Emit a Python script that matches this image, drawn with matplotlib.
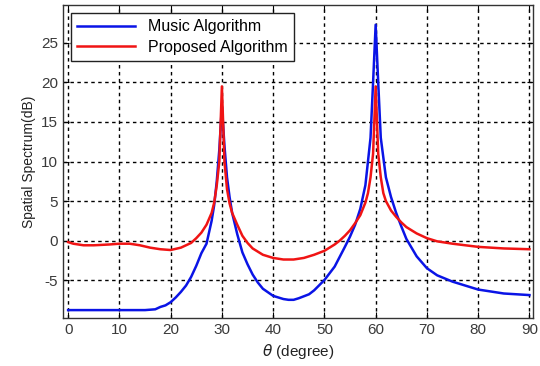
import matplotlib
matplotlib.use("Agg")
import matplotlib.pyplot as plt

# angle grid (degree) and spectra
music_theta = [0, 5, 10, 15, 17, 18, 19, 20, 21, 22, 23, 24, 25, 26, 27, 28,
               28.5, 29, 29.5, 30, 30.5, 31, 31.5, 32, 33, 34, 35, 36, 37, 38,
               40, 42, 43, 44, 45, 47, 48, 50, 52, 54, 55, 56, 57, 58, 59,
               59.5, 60, 60.5, 61, 62, 63, 64, 65, 66, 68, 70, 72, 75, 80, 85, 90]
music_db = [-8.8, -8.8, -8.8, -8.8, -8.7, -8.4, -8.2, -7.8, -7.2, -6.5, -5.7,
            -4.6, -3.2, -1.6, -0.4, 2.5, 4.5, 7.5, 11.5, 17.0, 12.0, 8.0, 5.5,
            3.5, 0.8, -1.5, -3.0, -4.3, -5.3, -6.1, -7.0, -7.4, -7.5, -7.5,
            -7.3, -6.8, -6.3, -5.0, -3.3, -0.8, 0.5, 2.0, 4.0, 7.0, 13.0, 20.0,
            27.3, 20.0, 13.0, 8.0, 5.5, 3.5, 1.8, 0.2, -2.0, -3.5, -4.4, -5.2,
            -6.2, -6.7, -6.9]

prop_theta = [0, 1, 3, 5, 8, 10, 12, 14, 16, 18, 20, 22, 24, 25, 26, 27, 28,
              28.5, 29, 29.5, 30, 30.5, 31, 31.5, 32, 33, 34, 35, 36, 38, 40,
              42, 44, 46, 48, 50, 52, 53, 54, 55, 56, 57, 58, 58.5, 59, 59.5,
              60, 60.5, 61, 61.5, 62, 63, 64, 65, 66, 68, 70, 72, 75, 80, 85, 90]
prop_db = [-0.2, -0.4, -0.6, -0.6, -0.5, -0.4, -0.4, -0.6, -0.9, -1.1, -1.2,
           -0.9, -0.3, 0.3, 1.0, 2.0, 3.5, 4.8, 7.0, 10.0, 19.5, 10.0, 6.5, 4.7,
           3.5, 2.0, 0.6, -0.3, -1.0, -1.8, -2.2, -2.4, -2.4, -2.2, -1.8, -1.3,
           -0.5, 0.0, 0.6, 1.3, 2.2, 3.2, 4.8, 6.0, 8.0, 11.0, 19.5, 11.0, 8.0,
           6.0, 5.0, 3.8, 3.0, 2.3, 1.7, 0.9, 0.3, -0.1, -0.4, -0.8, -1.0, -1.1]

x_ticks = [0, 10, 20, 30, 40, 50, 60, 70, 80, 90]
y_ticks = [-5, 0, 5, 10, 15, 20, 25]

plt.rcParams["font.family"] = ["Liberation Sans", "DejaVu Sans"]
plt.rcParams["axes.unicode_minus"] = False

fig = plt.figure(figsize=(5.4, 3.66), dpi=100, facecolor="white")
ax = fig.add_axes([63 / 540, 1 - 318 / 366, 470 / 540, 313 / 366])

ax.plot(music_theta, music_db, color="#0a14e6", lw=1.8, label="Music Algorithm")
ax.plot(prop_theta, prop_db, color="#f01414", lw=1.8, label="Proposed Algorithm")

ax.set_xlim(-1, 90.7)
ax.set_ylim(-9.8, 29.8)
ax.set_xticks(x_ticks)
ax.set_yticks(y_ticks)
ax.grid(True, color="black", ls=(0, (2.5, 2.5)), lw=1.0)
ax.tick_params(direction="in", top=True, right=True, labelsize=11,
               labelcolor="#3a3a3a", length=4)
for s in ax.spines.values():
    s.set_color("#333333")
    s.set_linewidth(1.0)

ax.set_ylabel("Spatial Spectrum(dB)", fontsize=10, color="#222222")
ax.set_xlabel(r"$\theta$ (degree)", fontsize=11, color="#222222")

leg = ax.legend(loc="upper left", fontsize=11.5, fancybox=False, framealpha=1,
                edgecolor="#222222", handlelength=3.6, borderaxespad=0.5,
                labelspacing=0.35, borderpad=0.4)
leg.get_frame().set_linewidth(1.0)

fig.savefig("out.png", dpi=100, facecolor="white")
